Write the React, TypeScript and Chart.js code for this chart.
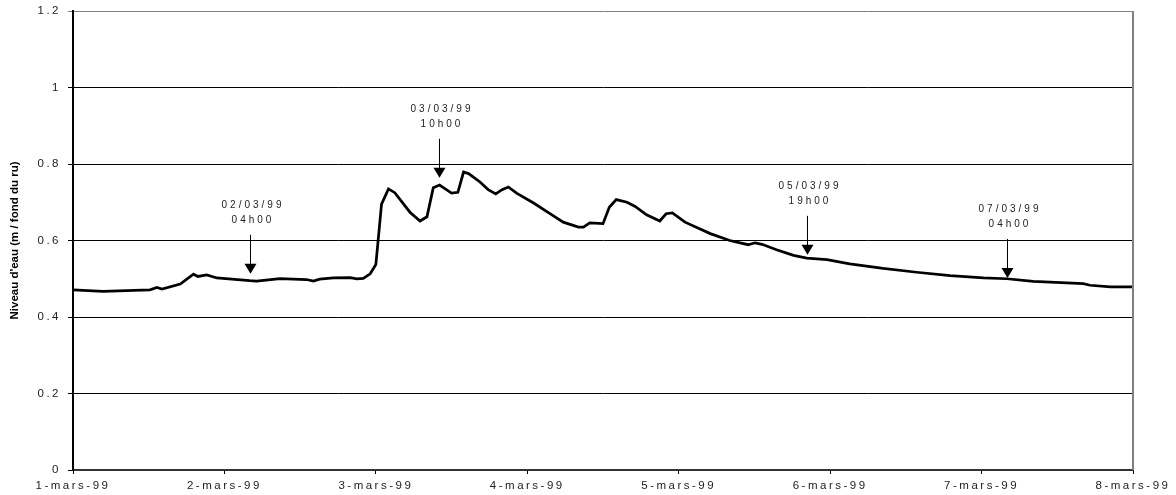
import React, { useEffect, useRef } from "react";
import { Chart, registerables } from "chart.js";

Chart.register(...registerables);

// Time in hours since 1-mars-99 00h00
const hours = [
  0, 4.75, 12.2, 13.3, 14.1, 17, 19.1, 19.8, 21.2, 22.8, 28, 29.1, 32.8, 37, 38.1, 39.1, 41.3, 43.9, 45, 46,
  47.1, 48, 48.9, 50, 51, 53.4, 55, 56.1, 57.1, 58.1, 60, 61, 61.9, 62.7, 64.5, 65.8, 67, 68, 69, 70.3,
  73, 75.9, 77.7, 80.1, 80.9, 81.9, 84, 85, 86.1, 87.8, 89.1, 90.9, 93, 94, 95, 97, 101, 104.1, 107, 108.1,
  109.2, 111.5, 114.2, 116.3, 119.5, 123.1, 128.4, 133.7, 139, 144.3, 148, 152.2, 157.5, 160.1, 161.2, 164.4, 168,
];
// Niveau d'eau (m / fond du ru)
const levels = [
  0.471, 0.467, 0.471, 0.477, 0.473, 0.486, 0.512, 0.506, 0.51, 0.502, 0.495, 0.494, 0.5, 0.498, 0.494, 0.499, 0.502, 0.503, 0.5, 0.501,
  0.513, 0.537, 0.695, 0.735, 0.725, 0.674, 0.651, 0.662, 0.738, 0.745, 0.724, 0.726, 0.779, 0.775, 0.753, 0.733, 0.722, 0.733, 0.74, 0.724,
  0.698, 0.667, 0.648, 0.635, 0.635, 0.646, 0.644, 0.687, 0.707, 0.7, 0.689, 0.667, 0.651, 0.67, 0.672, 0.648, 0.618, 0.6, 0.589, 0.594,
  0.59, 0.576, 0.561, 0.554, 0.55, 0.539, 0.527, 0.517, 0.508, 0.502, 0.5, 0.493, 0.489, 0.487, 0.483, 0.479, 0.479,
];

const xTickLabels = [
  "1-mars-99", "2-mars-99", "3-mars-99", "4-mars-99", "5-mars-99", "6-mars-99", "7-mars-99", "8-mars-99",
];

const annoDates = ["02/03/99", "03/03/99", "05/03/99", "07/03/99"];
const annoTimes = ["04h00", "10h00", "19h00", "04h00"];
const annoHours = [28, 58, 116.3, 148];
const annoTipLevels = [0.513, 0.764, 0.5625, 0.502];

const yTitle = "Niveau d'eau (m / fond du ru)";
const FONT = "'Liberation Sans', Arial, sans-serif";

const decorPlugin = {
  id: "decor",
  beforeLayout(chart: any) {
    chart.ctx.letterSpacing = "2.5px";
  },
  beforeDraw(chart: any) {
    chart.ctx.letterSpacing = "2.5px";
  },
  afterDraw(chart: any) {
    const ctx = chart.ctx as CanvasRenderingContext2D;
    const { right, top, bottom } = chart.chartArea;
    const xs = chart.scales.x;
    const ys = chart.scales.y;
    ctx.save();
    // right border
    ctx.strokeStyle = "#808080";
    ctx.lineWidth = 2;
    ctx.beginPath();
    ctx.moveTo(right, top);
    ctx.lineTo(right, bottom);
    ctx.stroke();

    // y title
    (ctx as any).letterSpacing = "0px";
    ctx.fillStyle = "#000";
    ctx.font = `bold 11.5px ${FONT}`;
    ctx.textAlign = "center";
    ctx.textBaseline = "middle";
    ctx.translate(15, (top + bottom) / 2);
    ctx.rotate(-Math.PI / 2);
    ctx.fillText(yTitle, 0, 0);
    ctx.restore();

    // annotations
    ctx.save();
    (ctx as any).letterSpacing = "3px";
    ctx.font = `10px ${FONT}`;
    ctx.textAlign = "center";
    ctx.textBaseline = "middle";
    ctx.strokeStyle = "#000";
    for (let i = 0; i < annoHours.length; i++) {
      const x = Math.round(xs.getPixelForValue(annoHours[i])) + 0.5;
      const tip = ys.getPixelForValue(annoTipLevels[i]);
      const shaftTop = tip - 39;
      ctx.lineWidth = 1;
      ctx.beginPath();
      ctx.moveTo(x, shaftTop);
      ctx.lineTo(x, tip - 8);
      ctx.stroke();
      ctx.fillStyle = "#000";
      ctx.beginPath();
      ctx.moveTo(x - 6, tip - 10);
      ctx.lineTo(x + 6, tip - 10);
      ctx.lineTo(x, tip);
      ctx.closePath();
      ctx.fill();
      ctx.fillStyle = "#222";
      ctx.fillText(annoDates[i], x + 2.5, shaftTop - 30);
      ctx.fillText(annoTimes[i], x + 2.5, shaftTop - 15);
    }
    ctx.restore();
  },
};

export default function App() {
  const ref = useRef<HTMLCanvasElement | null>(null);
  useEffect(() => {
    if (!ref.current) return;
    Chart.defaults.font.family = FONT;
    const chart = new Chart(ref.current, {
      type: "line",
      data: {
        datasets: [
          {
            data: hours.map((h, i) => ({ x: h, y: levels[i] })),
            borderColor: "#000",
            borderWidth: 2.75,
            pointRadius: 0,
            tension: 0,
            fill: false,
          },
        ],
      },
      options: {
        animation: false,
        responsive: false,
        events: [],
        layout: { padding: { left: 0, right: 43, top: 11, bottom: 0 } },
        plugins: { legend: { display: false }, tooltip: { enabled: false }, title: { display: false } },
        scales: {
          x: {
            type: "linear",
            min: 0,
            max: 168,
            afterFit(scale: any) {
              scale.height = 25;
              scale.paddingLeft = 0;
              scale.paddingRight = 0;
            },
            afterBuildTicks(scale: any) {
              scale.ticks = xTickLabels.map((_, i) => ({ value: i * 24 }));
            },
            ticks: {
              stepSize: 24,
              autoSkip: false,
              maxRotation: 0,
              padding: 5,
              color: "#222",
              font: { size: 11.5 },
              callback: (v: any) => xTickLabels[Math.round(Number(v) / 24)] ?? "",
            },
            grid: { drawOnChartArea: false, drawTicks: true, tickLength: 4, color: "#000", lineWidth: 1 },
            border: { display: true, color: "#333", width: 2 },
          },
          y: {
            min: 0,
            max: 1.2,
            afterFit(scale: any) {
              scale.width = 73;
              scale.paddingTop = 0;
              scale.paddingBottom = 0;
            },
            ticks: {
              stepSize: 0.2,
              padding: 7,
              color: "#222",
              font: { size: 11.5 },
              callback: (v: any) => String(Math.round(Number(v) * 10) / 10),
            },
            grid: {
              drawTicks: true,
              tickLength: 5,
              lineWidth: 1,
              color: (c: any) => (c.tick && Math.abs(c.tick.value - 1.2) < 1e-6 ? "#808080" : "#000"),
            },
            border: { display: true, color: "#000", width: 2 },
          },
        },
      },
      plugins: [decorPlugin],
    });
    return () => chart.destroy();
  }, []);
  return (
    <div style={{ position: "fixed", left: 0, top: 0, width: 1176, height: 495, background: "#fff" }}>
      <canvas ref={ref} width={1176} height={495} style={{ width: 1176, height: 495, display: "block" }} />
    </div>
  );
}
